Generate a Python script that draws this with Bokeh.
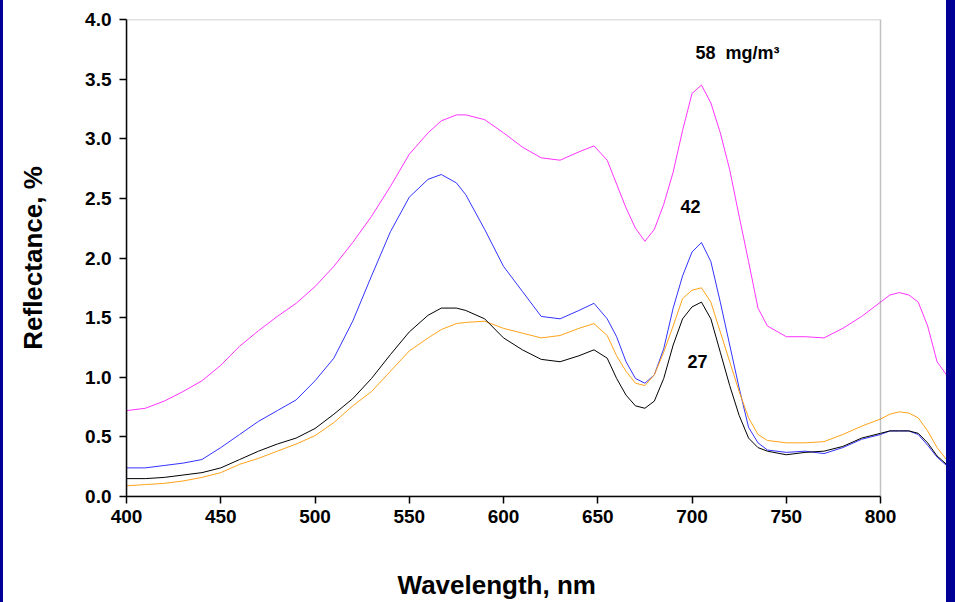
from bokeh.plotting import figure
from bokeh.models import (ColumnDataSource, FixedTicker, NumeralTickFormatter,
                          BoxAnnotation, Div, Range1d)
from bokeh.layouts import row
from bokeh.core.properties import value
from bokeh.embed import file_html
from bokeh.resources import INLINE

wavelength = [400, 410, 420, 430, 440, 450, 460, 470, 480, 490, 500, 510, 520, 530, 540,
              550, 560, 567, 575, 580, 590, 600, 610, 620, 630, 640, 648, 655, 660, 665,
              670, 675, 680, 685, 690, 695, 700, 705, 710, 715, 720, 725, 730, 735, 740,
              750, 760, 770, 780, 790, 800, 805, 810, 815, 820, 825, 830, 835, 838]

refl_58 = [0.72, 0.74, 0.80, 0.88, 0.97, 1.10, 1.26, 1.39, 1.51, 1.62, 1.76, 1.93, 2.13, 2.35, 2.60,
           2.87, 3.05, 3.15, 3.20, 3.20, 3.16, 3.05, 2.93, 2.84, 2.82, 2.89, 2.94, 2.82, 2.62, 2.42,
           2.25, 2.14, 2.24, 2.45, 2.72, 3.07, 3.38, 3.45, 3.30, 3.05, 2.74, 2.35, 1.97, 1.58, 1.43,
           1.34, 1.34, 1.33, 1.41, 1.51, 1.63, 1.69, 1.71, 1.69, 1.63, 1.43, 1.13, 1.02, 0.93]

refl_42 = [0.24, 0.24, 0.26, 0.28, 0.31, 0.41, 0.52, 0.63, 0.72, 0.81, 0.97, 1.16, 1.47, 1.85, 2.22,
           2.51, 2.66, 2.70, 2.63, 2.53, 2.24, 1.93, 1.72, 1.51, 1.49, 1.56, 1.62, 1.49, 1.34, 1.13,
           0.99, 0.95, 1.02, 1.24, 1.58, 1.85, 2.05, 2.13, 1.97, 1.63, 1.27, 0.91, 0.58, 0.45, 0.39,
           0.37, 0.38, 0.36, 0.41, 0.48, 0.52, 0.55, 0.55, 0.55, 0.52, 0.43, 0.33, 0.26, 0.24]

refl_orange = [0.09, 0.10, 0.11, 0.13, 0.16, 0.20, 0.27, 0.32, 0.38, 0.44, 0.51, 0.62, 0.76, 0.88, 1.05,
               1.22, 1.33, 1.40, 1.45, 1.46, 1.47, 1.41, 1.37, 1.33, 1.35, 1.41, 1.45, 1.35, 1.18, 1.05,
               0.95, 0.93, 1.02, 1.21, 1.43, 1.66, 1.73, 1.75, 1.63, 1.38, 1.13, 0.88, 0.66, 0.52, 0.47,
               0.45, 0.45, 0.46, 0.52, 0.59, 0.65, 0.69, 0.71, 0.70, 0.66, 0.55, 0.41, 0.31, 0.27]

refl_27 = [0.15, 0.15, 0.16, 0.18, 0.20, 0.24, 0.31, 0.38, 0.44, 0.49, 0.57, 0.69, 0.82, 0.99, 1.19,
           1.38, 1.52, 1.58, 1.58, 1.56, 1.49, 1.33, 1.23, 1.15, 1.13, 1.18, 1.23, 1.16, 0.99, 0.85,
           0.76, 0.74, 0.80, 0.99, 1.27, 1.49, 1.59, 1.63, 1.49, 1.21, 0.93, 0.68, 0.49, 0.41, 0.38,
           0.35, 0.37, 0.38, 0.42, 0.49, 0.53, 0.55, 0.55, 0.55, 0.53, 0.45, 0.34, 0.27, 0.25]

series_colors = ["#FF33FF", "#3333FF", "#FFA31A", "#000000"]
series_values = [refl_58, refl_42, refl_orange, refl_27]

label_texts = ["58\u00a0 mg/m\u00b3", "42", "27"]
label_x = [701.8, 699.2, 702.9]
label_y = [3.72, 2.43, 1.13]
label_align = ["left", "center", "center"]

x_ticks = [400, 450, 500, 550, 600, 650, 700, 750, 800]
y_ticks = [0.0, 0.5, 1.0, 1.5, 2.0, 2.5, 3.0, 3.5, 4.0]
x_title = "Wavelength, nm"
y_title = "Reflectance, %"

FONT = "Liberation Sans"

p = figure(width=943, height=602, output_backend="svg", toolbar_location=None,
           x_range=Range1d(400, 835), y_range=Range1d(0, 4.0),
           min_border_left=123, min_border_right=0, min_border_top=19, min_border_bottom=103,
           margin=0)
p.outline_line_color = None
p.xgrid.visible = False
p.ygrid.visible = False
p.background_fill_color = "white"
p.border_fill_color = "white"

for vals, col in zip(series_values, series_colors):
    p.line(wavelength, vals, line_color=col, line_width=1)

src = ColumnDataSource(dict(x=label_x, y=label_y, t=label_texts, a=label_align))
p.text(x="x", y="y", text="t", source=src, text_align="a", text_baseline="middle",
       text_font=value(FONT), text_font_style="bold", text_font_size="18px", text_color="black")

p.add_layout(BoxAnnotation(left=400, right=800, bottom=0, top=4.0, fill_alpha=0,
                           line_color="#333333", line_width=1.5))

for ax in (p.xaxis[0], p.yaxis[0]):
    ax.major_label_text_font = FONT
    ax.major_label_text_font_style = "bold"
    ax.major_label_text_font_size = "19px"
    ax.major_label_text_color = "black"
    ax.axis_label_text_font = FONT
    ax.axis_label_text_font_style = "bold"
    ax.axis_label_text_font_size = "26px"
    ax.axis_label_text_color = "black"
    ax.minor_tick_line_color = None
    ax.major_tick_in = 0
    ax.major_tick_out = 7
    ax.axis_line_width = 1.5
    ax.axis_line_color = "black"
    ax.major_tick_line_width = 1.5
    ax.major_tick_line_color = "black"

p.xaxis[0].ticker = FixedTicker(ticks=x_ticks)
p.xaxis[0].bounds = (400, 800)
p.xaxis[0].major_label_standoff = 6
# trailing no-break spaces centre the title over the 400-800 axis rather than the whole frame
p.xaxis[0].axis_label = x_title + "\u00a0" * 11
p.xaxis[0].axis_label_standoff = 44

p.yaxis[0].ticker = FixedTicker(ticks=y_ticks)
p.yaxis[0].formatter = NumeralTickFormatter(format="0.0")
p.yaxis[0].axis_label = y_title
p.yaxis[0].major_label_standoff = 8
p.yaxis[0].axis_label_standoff = 34

left_bar = Div(text="", width=3, height=602, margin=0,
               styles={"background-color": "#000096"})
right_bar = Div(text="", width=9, height=602, margin=0,
                styles={"background-color": "#000096"})

layout = row(left_bar, p, right_bar, spacing=0, margin=0)

open("out.html", "w").write(file_html(layout, INLINE))
